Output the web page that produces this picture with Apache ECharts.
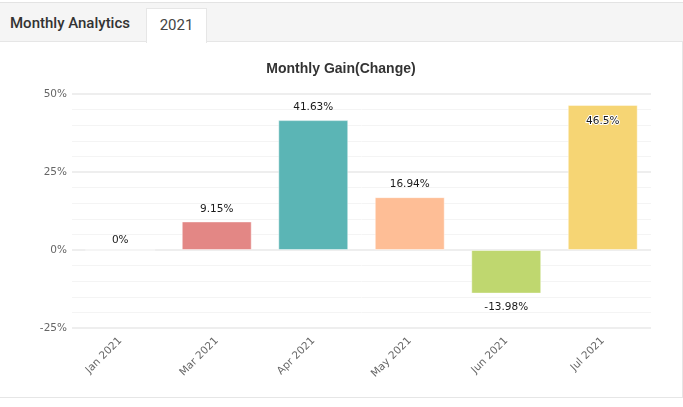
<!DOCTYPE html>
<html>
<head>
<meta charset="utf-8">
<script src="https://cdn.jsdelivr.net/npm/echarts@6/dist/echarts.min.js"></script>
<style>
  html, body { margin: 0; padding: 0; background: #fff; width: 683px; height: 407px; overflow: hidden; }
  .tabs {
    position: absolute; left: 0; top: 2px; width: 683px; height: 38px;
    background: #f5f5f5; border-top: 1px solid #e3e3e3; border-bottom: 1px solid #e6e6e6;
    font-family: Roboto, sans-serif; font-size: 15px;
  }
  .tab-title { position: absolute; left: 10px; top: 11px; color: #333; font-weight: 500; }
  .tab {
    position: absolute; left: 146px; top: 5px; width: 59px; height: 34px;
    background: #fff; border: 1px solid #e6e6e6; border-bottom: none;
    color: #444; text-align: center; line-height: 32px;
  }
  #myChart {
    position: absolute; left: 0; top: 42px; width: 682px; height: 355px;
    border-right: 1px solid #e6e6e6; border-bottom: 1px solid #e6e6e6;
  }
</style>
</head>
<body>
<div class="tabs">
  <span class="tab-title">Monthly Analytics</span>
  <div class="tab">2021</div>
</div>
<div id="myChart"></div>
<script>
const months = ["Jan 2021", "Mar 2021", "Apr 2021", "May 2021", "Jun 2021", "Jul 2021"];
const gains = [0, 9.15, 41.63, 16.94, -13.98, 46.5];
const barColors = ["#e38785", "#e38785", "#5bb5b5", "#febe96", "#bfd76f", "#f6d574"];
const yTicks = [-25, 0, 25, 50];

const myChart = echarts.init(document.getElementById("myChart"));

const barData = gains.map((v, i) => {
  let label = { position: "top", distance: 7 };
  if (v === 0) label = { position: "top", distance: 4 };
  if (v < 0) label = { position: "bottom", distance: 8 };
  if (v > 45) label = { position: "insideTop", distance: 11, textBorderColor: "#fff", textBorderWidth: 2 };
  return {
    value: v,
    itemStyle: { color: barColors[i], borderColor: "rgba(255,255,255,0.45)", borderWidth: 1 },
    label: label
  };
});

const option = {
  animation: false,
  title: {
    text: "Monthly Gain(Change)",
    left: "center",
    top: 15,
    textStyle: { fontFamily: "Liberation Sans", fontWeight: "bold", fontSize: 14, color: "#333" }
  },
  grid: { left: 72, right: 31, top: 52, bottom: 69, containLabel: false },
  xAxis: {
    type: "category",
    data: months,
    axisLine: { show: false },
    axisTick: { show: false },
    axisLabel: {
      rotate: 45, margin: 11, color: "#666",
      fontFamily: "DejaVu Sans", fontSize: 10.5
    }
  },
  yAxis: {
    type: "value",
    min: yTicks[0],
    max: yTicks[yTicks.length - 1],
    interval: 25,
    axisLine: { show: false },
    axisTick: { show: false },
    axisLabel: {
      formatter: "{value}%", color: "#666", margin: 5,
      fontFamily: "DejaVu Sans", fontSize: 10.5
    },
    splitLine: { lineStyle: { color: "#e8e8e8", width: 1.5 } },
    minorTick: { show: false, splitNumber: 5 },
    minorSplitLine: { show: true, lineStyle: { color: "#f4f4f4", width: 1 } }
  },
  series: [{
    type: "bar",
    data: barData,
    barWidth: "72.5%",
    label: {
      show: true,
      formatter: p => p.value + "%",
      color: "#1a1a1a",
      fontFamily: "DejaVu Sans",
      fontSize: 10.5
    }
  }]
};

myChart.setOption(option);
</script>
</body>
</html>
